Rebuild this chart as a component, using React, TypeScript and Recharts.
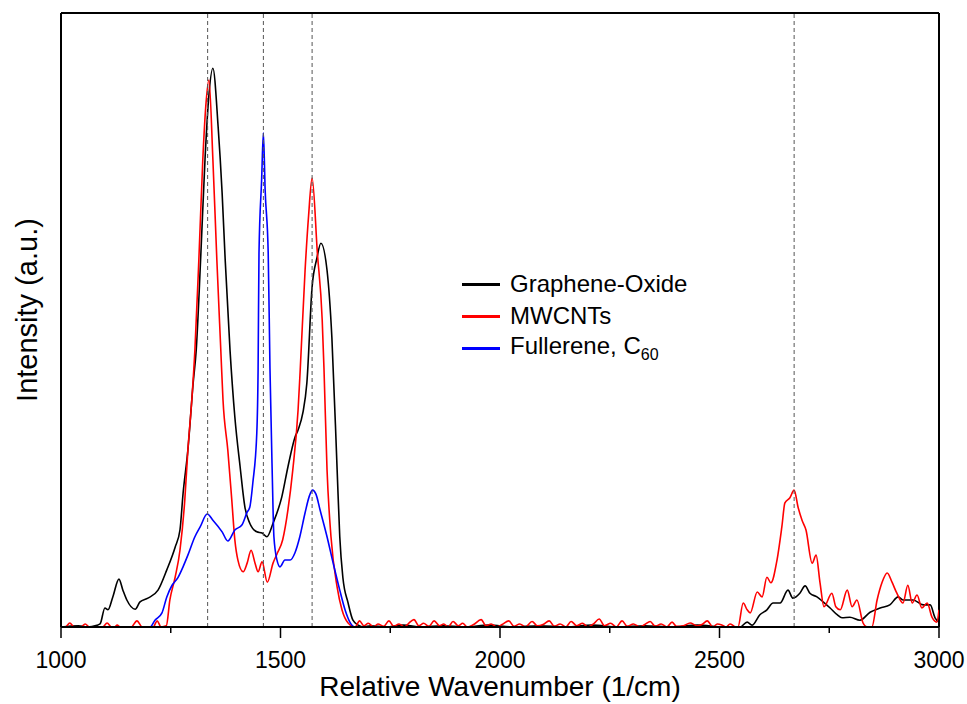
import React from 'react';
import { LineChart, Line, XAxis, YAxis, ReferenceLine, Legend } from 'recharts';

const FONT = '"Liberation Sans", Arial, sans-serif';

// Graphene-Oxide: D/G band region
const goWn = [1000, 1040, 1060, 1082, 1089, 1100, 1107, 1118, 1132, 1141, 1150, 1169, 1180, 1198, 1221, 1241, 1260, 1271, 1278, 1289, 1301, 1308, 1318, 1328, 1336, 1346, 1358, 1367, 1374, 1385, 1396, 1408, 1419, 1430, 1446, 1458, 1469, 1483, 1503, 1517, 1533, 1540, 1551, 1560, 1572, 1583, 1592, 1606, 1617, 1629, 1635, 1642, 1654, 1665, 1677, 1690];
const goI = [0, 0.2, 0, 0.3, 0.5, 3.1, 2.8, 4.9, 7.8, 6.0, 4.4, 2.9, 4.1, 4.7, 6.0, 9.3, 13.0, 15.8, 21.7, 28.8, 39.7, 45.1, 59.8, 76.1, 85.8, 91.0, 81.4, 70.7, 59.8, 45.1, 34.2, 26.1, 19.5, 16.9, 15.5, 15.3, 14.7, 16.9, 21.2, 26.1, 30.9, 32.1, 34.9, 39.7, 55.4, 60.1, 62.5, 58.1, 47.2, 25.6, 14.7, 8.1, 3.9, 1.1, 0.3, 0];
// Graphene-Oxide: flat region
const goBaseWn = [1705, 1740, 1780, 1820, 1870, 1920, 1975, 2030, 2090, 2150, 2210, 2270, 2330, 2390, 2450, 2510, 2547];
const goBaseI = [0.2, 0, 0.3, 0, 0.2, 0, 0.3, 0, 0.2, 0, 0.3, 0, 0.2, 0, 0.3, 0, 0];
// Graphene-Oxide: 2D region
const go2dWn = [2563, 2574, 2592, 2608, 2622, 2638, 2656, 2667, 2683, 2695, 2706, 2722, 2736, 2752, 2768, 2779, 2797, 2820, 2843, 2866, 2888, 2907, 2918, 2941, 2964, 2980, 2991, 3000];
const go2dI = [0.8, 0.3, 2.0, 2.8, 3.9, 3.9, 6.0, 4.7, 5.5, 6.7, 5.5, 4.9, 4.1, 3.1, 2.0, 1.5, 1.6, 1.1, 2.4, 3.1, 3.6, 4.9, 4.4, 4.4, 3.6, 3.6, 1.5, 0.8];

// MWCNTs: D/G band region
const mwWn = [1000, 1010, 1020, 1030, 1045, 1055, 1065, 1095, 1105, 1115, 1122, 1128, 1135, 1160, 1173, 1185, 1210, 1219, 1228, 1240, 1248, 1260, 1271, 1282, 1289, 1298, 1305, 1314, 1323, 1330, 1337, 1346, 1355, 1364, 1369, 1380, 1389, 1396, 1403, 1415, 1424, 1433, 1442, 1449, 1458, 1470, 1483, 1492, 1505, 1517, 1528, 1540, 1545, 1556, 1564, 1572, 1584, 1595, 1599, 1606, 1615, 1629, 1640, 1654, 1670];
const mwI = [0, 0, 0.65, 0, 0, 0.5, 0, 0, 0.65, 0, 0, 0.3, 0, 0, 1.0, 0, 0, 1.0, 0, 0.2, 4.4, 8.1, 12.5, 20.7, 28.8, 37.0, 45.1, 59.8, 76.1, 85.0, 89.1, 76.1, 59.8, 45.1, 37.0, 28.8, 20.7, 14.2, 10.9, 9.0, 10.4, 12.5, 10.4, 9.0, 10.6, 7.3, 10.4, 11.9, 14.2, 19.1, 25.6, 35.3, 42.0, 58.1, 67.0, 73.1, 60.9, 50.0, 42.2, 25.6, 14.7, 6.5, 2.8, 0.65, 0];
// MWCNTs: noisy flat region
const mwBaseWn = [1680, 1690, 1700, 1712, 1722, 1735, 1747, 1758, 1770, 1782, 1792, 1804, 1815, 1826, 1838, 1850, 1862, 1872, 1882, 1893, 1905, 1915, 1926, 1940, 1957, 1968, 1980, 1992, 2005, 2020, 2032, 2045, 2058, 2073, 2085, 2098, 2112, 2124, 2137, 2150, 2162, 2175, 2188, 2200, 2213, 2226, 2238, 2252, 2265, 2278, 2290, 2304, 2318, 2330, 2342, 2354, 2367, 2380, 2392, 2402, 2418, 2433, 2449, 2460, 2472, 2485, 2495, 2506, 2515, 2524, 2534, 2542];
const mwBaseI = [1.0, 0.2, 0.6, 0, 0.5, 0.1, 1.0, 0.1, 0.5, 0, 0.6, 1.2, 0.2, 0.6, 0.1, 1.0, 0.2, 0.5, 0, 0.9, 0.2, 0.6, 0, 0.4, 1.2, 0.2, 0.5, 0, 0.4, 1.0, 0.1, 0.5, 0, 0.9, 0.2, 0.4, 1.0, 0.1, 0.5, 0, 0.9, 0.2, 0.6, 0, 0.5, 1.3, 0.2, 0.6, 0, 1.0, 0.1, 0.5, 0, 0.4, 0.9, 0.1, 0.5, 0, 0.8, 0.1, 0.2, 0.65, 0.2, 0.4, 1.0, 0, 0.5, 0.3, 0, 0.5, 0.1, 0];
// MWCNTs: 2D region
const mw2dWn = [2554, 2563, 2570, 2586, 2597, 2608, 2617, 2631, 2642, 2649, 2660, 2670, 2679, 2688, 2697, 2711, 2720, 2729, 2738, 2756, 2765, 2775, 2791, 2802, 2813, 2827, 2836, 2847, 2859, 2870, 2882, 2893, 2904, 2918, 2929, 2939, 2950, 2961, 2973, 2984, 2995, 3000];
const mw2dI = [3.9, 2.8, 2.3, 5.7, 4.9, 8.1, 7.2, 10.9, 16.3, 20.2, 21.0, 22.3, 19.5, 17.4, 15.8, 10.4, 11.7, 7.2, 3.3, 5.5, 3.3, 2.8, 6.0, 3.3, 4.4, 0.65, 0, 0, 4.4, 7.2, 8.8, 7.3, 5.5, 3.9, 6.8, 3.9, 5.2, 3.1, 3.9, 1.6, 0.8, 2.8];

// Fullerene C60
const fuWn = [1000, 1203, 1214, 1230, 1241, 1253, 1266, 1278, 1289, 1305, 1317, 1333, 1346, 1367, 1380, 1396, 1412, 1424, 1430, 1437, 1446, 1449, 1451, 1457, 1461, 1465, 1472, 1476, 1481, 1485, 1492, 1499, 1510, 1522, 1533, 1544, 1556, 1566, 1573, 1581, 1590, 1606, 1620, 1635, 1647, 1658, 1670, 3000];
const fuI = [0, 0, 1.1, 2.3, 4.9, 6.8, 8.0, 9.8, 11.7, 14.7, 16.3, 18.4, 17.4, 15.5, 14.0, 15.8, 16.6, 18.7, 19.5, 23.5, 31.6, 42.2, 60.9, 72.8, 80.5, 71.2, 60.9, 42.2, 25.6, 14.7, 10.9, 9.8, 10.9, 10.9, 12.1, 14.7, 18.6, 21.4, 22.3, 21.6, 19.1, 14.7, 10.4, 6.0, 2.8, 0.8, 0, 0];

const peakLines = [1334, 1461, 1572, 2670];
const xTicks = [1000, 1250, 1500, 1750, 2000, 2250, 2500, 2750, 3000];
const seriesNames = ['Graphene-Oxide', 'MWCNTs', 'Fullerene, C60'];
const seriesColors = ['#000000', '#ff0000', '#0000ff'];

const zip = (wn: number[], vals: number[]) => wn.map((w, i) => ({ w, v: vals[i] }));

const goData = [...zip(goWn, goI), ...zip(goBaseWn, goBaseI), ...zip(go2dWn, go2dI)];
const mwData = [...zip(mwWn, mwI), ...zip(mwBaseWn, mwBaseI), ...zip(mw2dWn, mw2dI)];
const fuData = zip(fuWn, fuI);
const seriesData = [goData, mwData, fuData];

const WaveTick = (props: any) => {
  const { x, y, payload } = props;
  const major = payload.value % 500 === 0;
  return (
    <g>
      <line x1={x} x2={x} y1={y} y2={y + (major ? 11 : 6)} stroke="#000" strokeWidth={1.5} />
      {major && (
        <text x={x} y={y + 41} textAnchor="middle" fontSize={23} fontFamily={FONT} fill="#000">
          {payload.value}
        </text>
      )}
    </g>
  );
};

const legendLabel = (name: string) => {
  if (name.endsWith('C60')) {
    return (
      <span>
        {name.slice(0, -2)}
        <sub style={{ fontSize: 16 }}>60</sub>
      </span>
    );
  }
  return <span>{name}</span>;
};

const renderLegend = () => (
  <div style={{ fontFamily: FONT, fontSize: 24, color: '#000' }}>
    {seriesNames.map((n, i) => (
      <div key={n} style={{ display: 'flex', alignItems: 'center', height: 32 }}>
        <span style={{ display: 'inline-block', width: 38, height: 3, background: seriesColors[i], marginRight: 10 }} />
        {legendLabel(n)}
      </div>
    ))}
  </div>
);

export default function App() {
  return (
    <div style={{ position: 'fixed', left: 0, top: 0, width: 967, height: 704, background: '#fff', fontFamily: FONT }}>
      <LineChart width={967} height={704} margin={{ top: 13, right: 28, bottom: 0, left: 0 }}>
        <XAxis
          type="number"
          dataKey="w"
          domain={[1000, 3000]}
          ticks={xTicks}
          interval={0}
          allowDataOverflow
          height={77}
          tickSize={0}
          tickMargin={0}
          tick={<WaveTick />}
          axisLine={{ stroke: '#000', strokeWidth: 2 }}
          label={{
            content: (p: any) => (
              <text
                x={p.viewBox.x + p.viewBox.width / 2}
                y={696}
                textAnchor="middle"
                fontSize={28}
                fontFamily={FONT}
                fill="#000"
              >
                Relative Wavenumber (1/cm)
              </text>
            ),
          }}
        />
        <YAxis
          type="number"
          domain={[0, 100]}
          allowDataOverflow
          width={61}
          tick={false}
          tickLine={false}
          axisLine={{ stroke: '#000', strokeWidth: 2 }}
          label={{
            content: (p: any) => {
              const cy = p.viewBox.y + p.viewBox.height / 2 - 10;
              return (
                <text
                  x={37}
                  y={cy}
                  transform={`rotate(-90 37 ${cy})`}
                  textAnchor="middle"
                  fontSize={29}
                  fontFamily={FONT}
                  fill="#000"
                >
                  Intensity (a.u.)
                </text>
              );
            },
          }}
        />
        <ReferenceLine y={100} stroke="#000" strokeWidth={2} />
        <ReferenceLine x={3000} stroke="#000" strokeWidth={2} />
        {seriesNames.map((n, i) => (
          <Line
            key={n}
            name={n}
            data={seriesData[i]}
            dataKey="v"
            type="monotone"
            stroke={seriesColors[i]}
            strokeWidth={1.6}
            dot={false}
            activeDot={false}
            isAnimationActive={false}
          />
        ))}
        {peakLines.map((p) => (
          <ReferenceLine key={p} x={p} stroke="#555" strokeWidth={1} strokeDasharray="4 3" />
        ))}
        <Legend
          layout="vertical"
          align="center"
          verticalAlign="middle"
          content={renderLegend}
          wrapperStyle={{ left: 462, top: 268, width: 260 }}
        />
      </LineChart>
    </div>
  );
}
